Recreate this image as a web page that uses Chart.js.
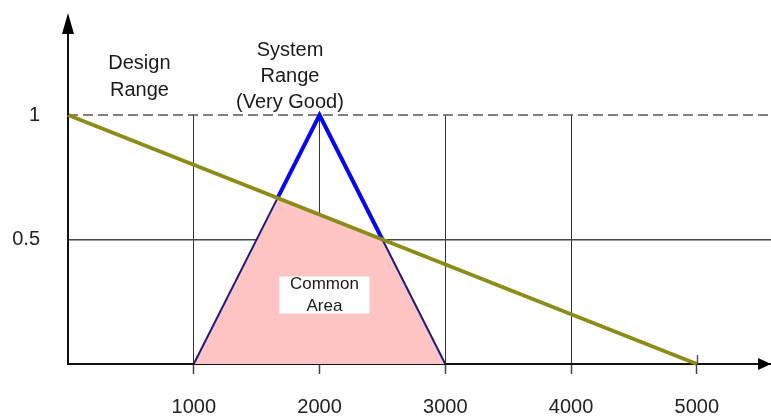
<!DOCTYPE html>
<html><head><meta charset="utf-8">
<script src="https://cdn.jsdelivr.net/npm/chart.js@4"></script>
<style>html,body{margin:0;padding:0;background:#fff}canvas{display:block}</style>
</head><body>
<canvas id="c" width="771" height="417"></canvas>
<script>
// ---- data ----
const xTickValues = [1000, 2000, 3000, 4000, 5000];
const xTickLabels = ['1000', '2000', '3000', '4000', '5000'];
const yTickValues = [0.5, 1];
const yTickLabels = ['0.5', '1'];
const designX = [0, 5000];
const designY = [1, 0];
// system range triangle, with the two points where it meets the design line
const systemX = [1000, 1667, 2000, 2500, 3000];
const systemY = [0, 0.667, 1, 0.5, 0];
const commonX = [1000, 1667, 2500, 3000];
const commonY = [0, 0.667, 0.5, 0];
const refX = [0, 5590];
const refY = [1, 1];
const xMin = 0, xMax = 5590, yMin = 0, yMax = 1;
const designLabel = ['Design', 'Range'];
const systemLabel = ['System', 'Range', '(Very Good)'];
const commonLabel = ['Common', 'Area'];

const FONT = '"Liberation Sans", Arial, sans-serif';
const pts = (xs, ys) => xs.map((v, i) => ({x: v, y: ys[i]}));
// segments of the triangle lying inside the common area
const inCommon = c => c.p0DataIndex === 0 || c.p0DataIndex === 3;

const decor = {
  id: 'decor',
  afterDraw(chart, args, opts) {
    const {ctx, chartArea: a, scales: {x, y}} = chart;
    const x0 = Math.round(x.getPixelForValue(0)), y0 = Math.round(y.getPixelForValue(0));
    ctx.save();
    ctx.strokeStyle = '#111'; ctx.fillStyle = '#000'; ctx.lineWidth = 2;
    ctx.beginPath(); ctx.moveTo(x0, a.top); ctx.lineTo(x0, 30); ctx.stroke();
    ctx.beginPath(); ctx.moveTo(x0, 13); ctx.lineTo(x0 - 6, 34); ctx.lineTo(x0 + 6, 34); ctx.closePath(); ctx.fill();
    ctx.beginPath(); ctx.moveTo(a.right, y0); ctx.lineTo(a.right - 13, y0 - 6); ctx.lineTo(a.right - 13, y0 + 6); ctx.closePath(); ctx.fill();
    const xl = Math.round(x.getPixelForValue(xTickValues[xTickValues.length - 1])) + 0.5;
    ctx.strokeStyle = '#555'; ctx.lineWidth = 1.5;
    ctx.beginPath(); ctx.moveTo(xl, y0 - 9); ctx.lineTo(xl, y0); ctx.stroke();
    ctx.textAlign = 'center'; ctx.textBaseline = 'middle';
    for (const t of opts.labels) {
      const cx = x.getPixelForValue(t.x), cy = y.getPixelForValue(t.y);
      if (t.box) {
        ctx.fillStyle = '#fff';
        ctx.fillRect(cx - t.box[0] / 2, cy - t.box[1] / 2, t.box[0], t.box[1]);
      }
      ctx.fillStyle = '#1a1a1a';
      ctx.font = t.size + 'px ' + FONT;
      const n = t.lines.length;
      t.lines.forEach((s, i) => ctx.fillText(s, cx, cy + (i - (n - 1) / 2) * t.lh));
    }
    ctx.restore();
  }
};

new Chart(document.getElementById('c'), {
  type: 'scatter',
  data: {
    datasets: [
      {data: pts(designX, designY), showLine: true, borderColor: 'rgb(140,140,24)', borderWidth: 4, pointRadius: 0, order: 0, clip: false},
      {data: pts(systemX, systemY), showLine: true, borderColor: '#0808f0', borderWidth: 4, pointRadius: 0, order: 1, clip: false,
        segment: {
          borderColor: c => inCommon(c) ? '#1c1c80' : '#0808f0',
          borderWidth: c => inCommon(c) ? 2 : 4
        }},
      {data: pts(commonX, commonY), showLine: true, fill: 'origin', backgroundColor: 'rgb(255,196,196)', borderWidth: 0, borderColor: 'rgba(0,0,0,0)', pointRadius: 0, order: 2, clip: false},
      {data: pts(refX, refY), showLine: true, borderColor: '#555', borderWidth: 1.5, borderDash: [10, 5], pointRadius: 0, order: 3, clip: false}
    ]
  },
  options: {
    responsive: false,
    animation: false,
    layout: {padding: {top: 115, right: 0, left: 0, bottom: 0}},
    plugins: {
      legend: {display: false},
      tooltip: {enabled: false},
      decor: {labels: [
        {lines: designLabel, x: 568, y: 1.152, size: 20, lh: 26.5},
        {lines: systemLabel, x: 1765, y: 1.153, size: 20, lh: 26},
        {lines: commonLabel, x: 2039, y: 0.277, size: 17, lh: 22, box: [90, 37]}
      ]}
    },
    scales: {
      x: {
        type: 'linear', min: xMin, max: xMax,
        afterBuildTicks: s => { s.ticks = xTickValues.map(v => ({value: v})); },
        afterFit: s => { s.height = 53; },
        ticks: {autoSkip: false, maxRotation: 0, padding: 21, color: '#222',
          font: {size: 20, family: FONT},
          callback: (v, i) => xTickLabels[i]},
        grid: {
          color: c => (c.tick && c.tick.value === xTickValues[xTickValues.length - 1]) ? 'rgba(0,0,0,0)' : '#333',
          lineWidth: 1, tickLength: 10, tickColor: '#444', tickWidth: 1.5
        },
        border: {color: '#111', width: 2}
      },
      y: {
        type: 'linear', min: yMin, max: yMax,
        afterBuildTicks: s => { s.ticks = yTickValues.map(v => ({value: v})); },
        afterFit: s => { s.width = 68; },
        ticks: {padding: 28, crossAlign: 'near', color: '#222',
          font: {size: 20, family: FONT},
          callback: (v, i) => yTickLabels[i]},
        grid: {
          color: c => (c.tick && c.tick.value === 0.5) ? '#444' : 'rgba(0,0,0,0)',
          lineWidth: 1.5, drawTicks: false
        },
        border: {color: '#111', width: 2}
      }
    }
  },
  plugins: [decor]
});
</script>
</body></html>
